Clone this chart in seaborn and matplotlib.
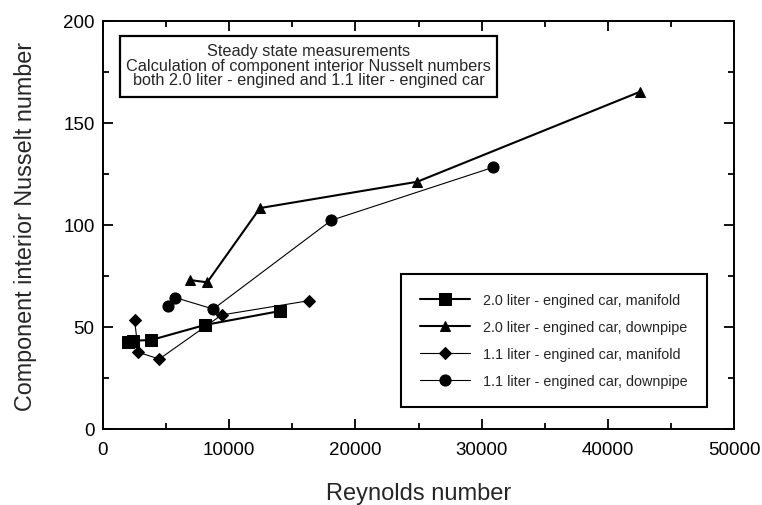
import matplotlib
matplotlib.use("Agg")
import matplotlib.pyplot as plt
import seaborn as sns
import pandas as pd
from matplotlib.ticker import MultipleLocator
from matplotlib.patches import Rectangle

sns.set_style("ticks")
plt.rcParams['font.family'] = ['Liberation Sans', 'DejaVu Sans']

# Data
labels = [
    "2.0 liter - engined car, manifold",
    "2.0 liter - engined car, downpipe",
    "1.1 liter - engined car, manifold",
    "1.1 liter - engined car, downpipe",
]
re_20_manifold = [2000, 2400, 3800, 8080, 14000]
nu_20_manifold = [42.5, 43.3, 43.6, 51.0, 57.8]
re_20_downpipe = [6900, 8260, 12440, 24900, 42550]
nu_20_downpipe = [73.0, 71.9, 108.3, 121.2, 165.3]
re_11_manifold = [2500, 2800, 4460, 9400, 16320]
nu_11_manifold = [53.6, 37.6, 34.3, 55.9, 62.9]
re_11_downpipe = [5150, 5730, 8740, 18090, 30930]
nu_11_downpipe = [60.1, 64.4, 58.8, 102.3, 128.3]

series = [
    (re_20_manifold, nu_20_manifold, "s", 8.5, 1.5),
    (re_20_downpipe, nu_20_downpipe, "^", 7.5, 1.5),
    (re_11_manifold, nu_11_manifold, "D", 6.5, 0.8),
    (re_11_downpipe, nu_11_downpipe, "o", 8.0, 0.8),
]

fig = plt.figure(figsize=(7.62, 5.06), dpi=100)
ax = fig.add_axes([103/762, 1-430/506, (734-103)/762, (430-22)/506])

for (xs, ys, mk, ms, lw), lab in zip(series, labels):
    df = pd.DataFrame({"x": xs, "y": ys})
    sns.lineplot(data=df, x="x", y="y", sort=False, estimator=None, ax=ax,
                 color="black", marker=mk, markersize=ms, linewidth=lw,
                 markeredgecolor="black", markerfacecolor="black", label=lab)

ax.set_xlim(0, 50000)
ax.set_ylim(0, 200)
ax.xaxis.set_major_locator(MultipleLocator(10000))
ax.xaxis.set_minor_locator(MultipleLocator(5000))
ax.yaxis.set_major_locator(MultipleLocator(50))
ax.yaxis.set_minor_locator(MultipleLocator(25))
ax.tick_params(which="both", direction="in", top=True, right=True,
               labeltop=False, labelright=False, width=1.3, colors="black")
ax.tick_params(which="major", length=7, labelsize=13.5)
ax.tick_params(axis="x", which="major", pad=9)
ax.tick_params(axis="y", which="major", pad=6)
ax.tick_params(which="minor", length=4)
for sp in ax.spines.values():
    sp.set_linewidth(1.4)
    sp.set_color("black")

ax.set_xlabel("Reynolds number", fontsize=17, labelpad=17)
ax.set_ylabel("Component interior Nusselt number", fontsize=16.8, labelpad=19)

# annotation box
ax.add_patch(Rectangle((0.027, 0.814), 0.597, 0.149, transform=ax.transAxes,
                       fill=True, fc="white", ec="black", lw=1.6, zorder=4))
ax.text(0.3257, 0.892,
        "Steady state measurements\nCalculation of component interior Nusselt numbers\nboth 2.0 liter - engined and 1.1 liter - engined car",
        transform=ax.transAxes, ha="center", va="center", fontsize=11.7,
        multialignment="center", linespacing=0.98, zorder=5)

leg = ax.legend(loc="upper left", bbox_to_anchor=((401-103)/631, 1-(275-22)/408),
                fontsize=10.4, frameon=True, fancybox=False, handlelength=3.5,
                borderpad=1.3, labelspacing=0.9, handletextpad=0.9,
                borderaxespad=0)
leg.get_frame().set_edgecolor("black")
leg.get_frame().set_linewidth(1.5)
leg.get_frame().set_alpha(1)

fig.savefig("out.png", dpi=100)
